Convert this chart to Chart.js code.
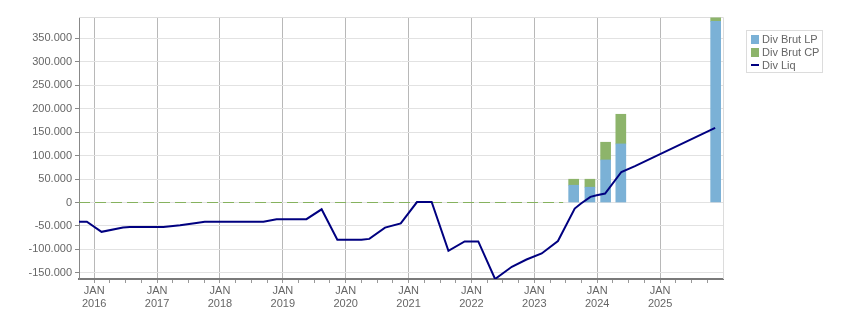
<!DOCTYPE html>
<html lang="de">
<head>
    <meta charset="UTF-8">
    <title>Div Brut / Div Liq</title>
    <script src="https://cdn.jsdelivr.net/npm/chart.js"></script>
    <style>
        body { margin: 0; background: #fff; }
        #wrap { position: relative; width: 851px; height: 313px; }
        #legend {
            position: absolute; left: 746px; top: 30px; width: 77px; height: 43px;
            box-sizing: border-box; border: 1px solid #dcdcdc; padding-top: 2px;
            font: 11px "Liberation Sans", Arial, sans-serif; color: #666;
        }
        .item { position: relative; height: 13px; line-height: 13px; padding-left: 15px; white-space: nowrap; }
        .sw { position: absolute; left: 4px; top: 2px; width: 8px; height: 9px; }
        .sw.line { top: 5px; height: 2px; }
    </style>
</head>
<body>
<div id="wrap">
    <canvas id="divChart" width="851" height="313"></canvas>
    <div id="legend"></div>
</div>
<script>
    // months counted from JAN 2016
    var liqMonths = [-2.9, -1.4, 1.4, 5.5, 6.8, 13.2, 16.4, 19.5, 21.1, 32.3, 34.8, 40.5, 43.4, 46.4, 51, 52.5,
        55.5, 58.5, 61.6, 64.4, 67.6, 70.7, 73.3, 76.5, 79.7, 82.5, 85.4, 88.5, 91.7, 92.9, 94.7, 95.9,
        97.5, 100.6, 103.2, 118.5];
    var divLiq = [-41000, -41000, -62500, -53500, -52000, -52000, -48500, -43500, -41000, -41000, -35500, -35500,
        -14500, -79500, -79500, -77500, -53500, -44500, 1000, 1000, -103000, -83000, -83000, -163000,
        -137000, -121500, -108500, -82000, -13000, -2000, 12000, 15500, 19000, 65000, 77500, 159000];

    var barMonths = [91.5, 94.6, 97.6, 100.5, 118.6];
    var divBrutLP = [36800, 32600, 90700, 124800, 386000];
    var divBrutCP = [12800, 17000, 37700, 63200, 7500];

    var zeroMonths = [-2.9, 89.5];
    var zeroValues = [0, 0];

    var yTickValues = [-150000, -100000, -50000, 0, 50000, 100000, 150000, 200000, 250000, 300000, 350000];
    var yearLabels = ['2016', '2017', '2018', '2019', '2020', '2021', '2022', '2023', '2024', '2025'];
    var monthLabel = 'JAN';

    var FONT = '"Liberation Sans", Arial, sans-serif';

    function pts(xs, ys) {
        return xs.map(function (x, i) { return { x: x, y: ys[i] }; });
    }

    function fmt(v) {
        var s = Math.abs(v).toString().replace(/\B(?=(\d{3})+(?!\d))/g, '.');
        return (v < 0 ? '-' : '') + s;
    }

    // light frame on top and right of the plot
    var frame = {
        id: 'frame',
        beforeDatasetsDraw: function (chart) {
            var a = chart.chartArea, c = chart.ctx;
            c.save();
            c.strokeStyle = '#dcdcdc';
            c.lineWidth = 1;
            c.beginPath();
            c.moveTo(a.left, Math.round(a.top) + 0.5);
            c.lineTo(Math.round(a.right) + 0.5, Math.round(a.top) + 0.5);
            c.lineTo(Math.round(a.right) + 0.5, a.bottom);
            c.stroke();
            c.restore();
        }
    };

    var ctx = document.getElementById('divChart').getContext('2d');
    var divChart = new Chart(ctx, {
        type: 'bar',
        data: {
            datasets: [{
                type: 'bar',
                label: 'Div Brut LP',
                data: pts(barMonths, divBrutLP),
                backgroundColor: '#7bb1d6',
                barThickness: 10,
                stack: 'div',
                order: 2
            }, {
                type: 'bar',
                label: 'Div Brut CP',
                data: pts(barMonths, divBrutCP),
                backgroundColor: '#8db46b',
                barThickness: 10,
                stack: 'div',
                order: 2
            }, {
                type: 'line',
                label: 'Div Liq',
                data: pts(liqMonths, divLiq),
                borderColor: '#000080',
                borderWidth: 2,
                pointRadius: 0,
                tension: 0,
                fill: false,
                stack: 'liq',
                order: 0
            }, {
                type: 'line',
                label: 'zero',
                data: pts(zeroMonths, zeroValues),
                borderColor: '#86b25e',
                borderWidth: 1,
                borderDash: [11, 5],
                pointRadius: 0,
                fill: false,
                stack: 'zero',
                order: 1
            }]
        },
        options: {
            responsive: false,
            animation: false,
            layout: { padding: { top: 17, right: 128, left: 0, bottom: 0 } },
            plugins: {
                legend: { display: false },
                tooltip: { enabled: false }
            },
            scales: {
                x: {
                    type: 'linear',
                    min: -2.9,
                    max: 120,
                    offset: false,
                    grid: {
                        offset: false,
                        color: function (c) {
                            var v = c.tick ? c.tick.value : 1;
                            return v % 12 === 0 ? '#b8b8b8' : 'rgba(0,0,0,0)';
                        },
                        tickColor: '#999',
                        tickLength: 4
                    },
                    border: { color: '#7a7a7a', width: 2 },
                    afterBuildTicks: function (s) {
                        var t = [];
                        for (var m = 0; m <= 117; m += 3) t.push({ value: m });
                        s.ticks = t;
                    },
                    ticks: {
                        autoSkip: false,
                        maxRotation: 0,
                        padding: 1,
                        color: '#666',
                        font: { family: FONT, size: 11 },
                        callback: function (v) {
                            if (v % 12 !== 0) return '';
                            return [monthLabel, yearLabels[v / 12]];
                        }
                    },
                    afterFit: function (s) { s.height = 34; }
                },
                y: {
                    stacked: true,
                    min: -163000,
                    max: 395250,
                    grid: { color: '#e2e2e2', tickColor: '#888', tickLength: 4 },
                    border: { color: '#888' },
                    afterBuildTicks: function (s) {
                        s.ticks = yTickValues.map(function (v) { return { value: v }; });
                    },
                    ticks: {
                        padding: 3,
                        color: '#666',
                        font: { family: FONT, size: 11 },
                        callback: function (v) { return fmt(v); }
                    },
                    afterFit: function (s) { s.width = 79; }
                }
            }
        },
        plugins: [frame]
    });

    // legend box built from the datasets
    var legend = document.getElementById('legend');
    divChart.data.datasets.slice(0, 3).forEach(function (ds) {
        var item = document.createElement('div');
        item.className = 'item';
        var sw = document.createElement('span');
        sw.className = ds.type === 'line' ? 'sw line' : 'sw';
        sw.style.background = ds.type === 'line' ? ds.borderColor : ds.backgroundColor;
        item.appendChild(sw);
        item.appendChild(document.createTextNode(ds.label));
        legend.appendChild(item);
    });
</script>
</body>
</html>
